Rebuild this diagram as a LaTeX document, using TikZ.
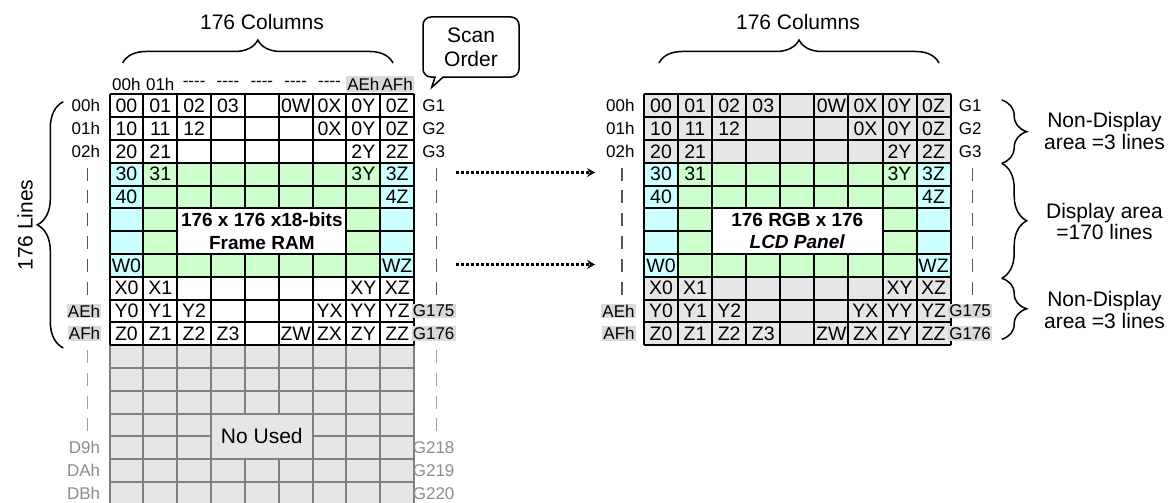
\documentclass[tikz,border=0pt]{standalone}
\usepackage{fontspec}
\setmainfont{Liberation Sans}[Ligatures=TeXOff]
\usepackage{tikz}
\usetikzlibrary{arrows.meta,decorations.pathreplacing}

\definecolor{cellgreen}{HTML}{CCFFCC}
\definecolor{cellcyan}{HTML}{CCFFFF}
\definecolor{cellgray}{HTML}{E6E6E6}
\definecolor{markgray}{HTML}{D9D9D9}
\definecolor{linegray}{HTML}{808080}
\definecolor{textgray}{HTML}{8C8C8C}
\definecolor{tickdark}{HTML}{555555}
\definecolor{ticklight}{HTML}{A0A0A0}

% one row of cell texts, empty entries are skipped
\newcommand{\cellrow}[3]{%
  \foreach \t [count=\k from 0] in {#3}{%
    \ifx\t\empty\else
      \node[cell] (#1-#2-\k) at ({(\k+0.5)*\cw},{(#2+0.5)*\ch}) {\t};
    \fi}}

\begin{document}
\begin{tikzpicture}[
  x=1pt, y=-1pt,   % one unit = one pixel, y runs downwards
  cell/.style={font=\fontsize{19.5}{20}\selectfont, inner sep=0pt},
  merged/.style={font=\fontsize{19}{22.3}\selectfont\bfseries, align=center, inner sep=0pt},
  lab/.style={font=\fontsize{17}{18}\selectfont, inner sep=1.2pt},
  hilite/.style={fill=markgray},
  faint/.style={text=textgray},
  big/.style={font=\fontsize{21}{21.7}\selectfont, align=center, inner sep=0pt},
  ramline/.style={line width=2pt},
  oldline/.style={draw=linegray, line width=2pt},
  tick/.style={draw=tickdark, line width=1.3pt},
  oldtick/.style={draw=ticklight, line width=1.3pt},
  curly/.style={decorate, decoration={brace, amplitude=#1}, line width=1.5pt},
  scanarrow/.style={line width=2.6pt, dash pattern=on 2.6pt off 2.4pt,
                    -{Stealth[length=8pt, width=9pt, inset=3pt]}},
  bubble/.style={draw, line width=1.5pt, rounded corners=8pt, fill=white}]

\useasboundingbox (0,0) rectangle (1172,503);
\def\ch{22.8}

% ================= frame RAM ==============================================
\begin{scope}[shift={(109.5,94.3)}]
  \def\cw{33.85}
  % display rows
  \fill[cellgreen] (0,3*\ch) rectangle (9*\cw,8*\ch);
  \fill[cellcyan] (0,3*\ch) rectangle (\cw,8*\ch);
  \fill[cellcyan] (8*\cw,3*\ch) rectangle (9*\cw,8*\ch);

  % rows that are not used
  \fill[cellgray] (0,11*\ch) rectangle (9*\cw,18*\ch);
  \foreach \r in {11,...,18}
    {\draw[oldline] (0,\r*\ch) -- (9*\cw,\r*\ch);}
  \foreach \k in {0,...,9}
    {\draw[oldline] (\k*\cw,11*\ch) -- (\k*\cw,18*\ch);}
  \fill[cellgray] (3*\cw+1,14*\ch+1) rectangle (6*\cw-1,16*\ch-1);
  \node[big] (unused) at (4.5*\cw,15*\ch) {No Used};

  % the 176 lines
  \foreach \r in {0,...,11}
    {\draw[ramline] (0,\r*\ch) -- (9*\cw,\r*\ch);}
  \foreach \k in {0,...,9}
    {\draw[ramline] (\k*\cw,0) -- (\k*\cw,11*\ch);}
  \fill[white] (2*\cw+1,5*\ch+1) rectangle (7*\cw-1,7*\ch-1);
  \node[merged] (ram) at (4.5*\cw,6*\ch) {176 x 176 x18-bits\\Frame RAM};

  \cellrow{L}{0}{00,01,02,03,,0W,0X,0Y,0Z}
  \cellrow{L}{1}{10,11,12,,,,0X,0Y,0Z}
  \cellrow{L}{2}{20,21,,,,,,2Y,2Z}
  \cellrow{L}{3}{30,31,,,,,,3Y,3Z}
  \cellrow{L}{4}{40,,,,,,,,4Z}
  \cellrow{L}{7}{W0,,,,,,,,WZ}
  \cellrow{L}{8}{X0,X1,,,,,,XY,XZ}
  \cellrow{L}{9}{Y0,Y1,Y2,,,,YX,YY,YZ}
  \cellrow{L}{10}{Z0,Z1,Z2,Z3,,ZW,ZX,ZY,ZZ}

  % column addresses
  \foreach \k/\lab in {0/00h, 1/01h, 2/----, 3/----, 4/----, 5/----, 6/----}
    {\node[lab] (L-col\k) at ({(\k+0.5)*\cw},-10.3) {\lab};}
  \node[lab, hilite, minimum width=\cw, minimum height=15.5, inner sep=0pt] (L-col7) at (7.5*\cw,-10.3) {AEh};
  \node[lab, hilite, minimum width=\cw, minimum height=15.5, inner sep=0pt] (L-col8) at (8.5*\cw,-10.3) {AFh};

  % row addresses and gate lines
  \foreach \r/\lab/\g in {0/00h/G1, 1/01h/G2, 2/02h/G3}
    {\node[lab, anchor=east] (L-row\r) at (-8,{(\r+0.5)*\ch}) {\lab};
     \node[lab] (L-gate\r) at (9*\cw+19.5,{(\r+0.5)*\ch}) {\g};}
  \foreach \r/\lab/\g in {9/AEh/G175, 10/AFh/G176}
    {\node[lab, hilite, anchor=east] (L-row\r) at (-8,{(\r+0.5)*\ch}) {\lab};
     \node[lab, hilite] (L-gate\r) at (9*\cw+19.5,{(\r+0.5)*\ch}) {\g};}
  \foreach \r/\lab/\g in {15/D9h/G218, 16/DAh/G219, 17/DBh/G220}
    {\node[lab, faint, anchor=east] (L-row\r) at (-8,{(\r+0.5)*\ch}) {\lab};
     \node[lab, faint] (L-gate\r) at (9*\cw+19.5,{(\r+0.5)*\ch}) {\g};}
  \foreach \r in {3,...,8}
    {\draw[tick] (-22,{(\r+0.5)*\ch-6.5}) -- ++(0,13);
     \draw[tick] (9*\cw+22,{(\r+0.5)*\ch-6.5}) -- ++(0,13);}
  \foreach \r in {11,...,14}
    {\draw[oldtick] (-22,{(\r+0.5)*\ch-6.5}) -- ++(0,13);
     \draw[oldtick] (9*\cw+22,{(\r+0.5)*\ch-6.5}) -- ++(0,13);}
\end{scope}

% ================= LCD panel ==============================================
\begin{scope}[shift={(644,94.3)}]
  \def\cw{34.07}
  \fill[cellgray] (0,0) rectangle (9*\cw,3*\ch);
  \fill[cellgray] (0,8*\ch) rectangle (9*\cw,11*\ch);
  \fill[cellgreen] (0,3*\ch) rectangle (9*\cw,8*\ch);
  \fill[cellcyan] (0,3*\ch) rectangle (\cw,8*\ch);
  \fill[cellcyan] (8*\cw,3*\ch) rectangle (9*\cw,8*\ch);

  \foreach \r in {0,...,11}
    {\draw[ramline] (0,\r*\ch) -- (9*\cw,\r*\ch);}
  \foreach \k in {0,...,9}
    {\draw[ramline] (\k*\cw,0) -- (\k*\cw,11*\ch);}
  \fill[white] (2*\cw+1,5*\ch+1) rectangle (7*\cw-1,7*\ch-1);
  \node[merged] (panel) at (4.5*\cw,6*\ch) {176 RGB x 176\\\textit{LCD Panel}};

  \cellrow{R}{0}{00,01,02,03,,0W,0X,0Y,0Z}
  \cellrow{R}{1}{10,11,12,,,,0X,0Y,0Z}
  \cellrow{R}{2}{20,21,,,,,,2Y,2Z}
  \cellrow{R}{3}{30,31,,,,,,3Y,3Z}
  \cellrow{R}{4}{40,,,,,,,,4Z}
  \cellrow{R}{7}{W0,,,,,,,,WZ}
  \cellrow{R}{8}{X0,X1,,,,,,XY,XZ}
  \cellrow{R}{9}{Y0,Y1,Y2,,,,YX,YY,YZ}
  \cellrow{R}{10}{Z0,Z1,Z2,Z3,,ZW,ZX,ZY,ZZ}

  \foreach \r/\lab/\g in {0/00h/G1, 1/01h/G2, 2/02h/G3}
    {\node[lab, anchor=east] (R-row\r) at (-8,{(\r+0.5)*\ch}) {\lab};
     \node[lab] (R-gate\r) at (9*\cw+19.5,{(\r+0.5)*\ch}) {\g};}
  \foreach \r/\lab/\g in {9/AEh/G175, 10/AFh/G176}
    {\node[lab, hilite, anchor=east] (R-row\r) at (-8,{(\r+0.5)*\ch}) {\lab};
     \node[lab, hilite] (R-gate\r) at (9*\cw+19.5,{(\r+0.5)*\ch}) {\g};}
  \foreach \r in {3,...,8}
    {\draw[tick] (-22,{(\r+0.5)*\ch-6.5}) -- ++(0,13);
     \draw[tick] (9*\cw+22,{(\r+0.5)*\ch-6.5}) -- ++(0,13);}
\end{scope}

% ================= braces, notes ==========================================
\draw[curly=23pt] (122.7,63) -- (393,63);
\node[big] (colsL) at (262,21.7) {176 Columns};
\draw[curly=23pt] (659,63) -- (939,63);
\node[big] (colsR) at (798,21.7) {176 Columns};

\draw[curly=26pt] (63.3,348) -- (63.3,101.7);
\node[big, rotate=90] (lines) at (25,225) {176 Lines};

\draw[curly=25pt] (1001.7,100) -- (1001.7,163.3);
\node[big] (nondispA) at (1104.5,131) {Non-Display\\area =3 lines};
\draw[curly=25pt] (1001.7,163.3) -- (1001.7,278.3);
\node[big] (disp) at (1104.5,221.5) {Display area\\=170 lines};
\draw[curly=25pt] (1001.7,278.3) -- (1001.7,339.3);
\node[big] (nondispB) at (1104.5,310) {Non-Display\\area =3 lines};

% scan order bubble
\node[bubble, big, minimum width=96, minimum height=60, font=\fontsize{21}{24}\selectfont] (scan) at (471,47) {Scan\\Order};
\fill[white] (435.8,75.6) rectangle (442.6,78.4);
\draw[line width=1.5pt] (435,77) -- (431.7,87.3) -- (443.3,77);

% ================= RAM rows to panel rows =================================
\coordinate (outA) at (456,172.5);
\coordinate (inA) at (595,172.5);
\coordinate (outB) at (456,264.5);
\coordinate (inB) at (595,264.5);
\draw[scanarrow] (outA) -- (inA);
\draw[scanarrow] (outB) -- (inB);

\end{tikzpicture}
\end{document}
